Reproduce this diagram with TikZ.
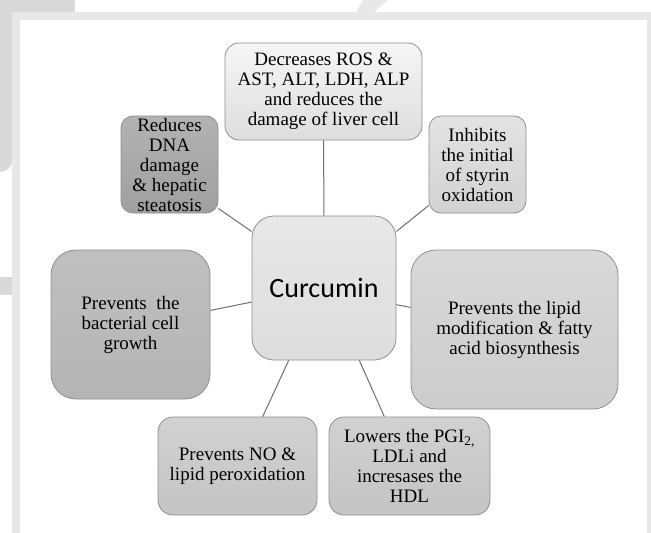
\documentclass[tikz,border=0pt]{standalone}
\usepackage{fontspec}
\setmainfont{Liberation Serif}
\newfontfamily\calfont{Carlito}
\usetikzlibrary{math}
\definecolor{wmgray}{HTML}{D9D9D9}
\definecolor{framegray}{HTML}{E8E8E8}
\definecolor{edgegray}{HTML}{8F8F8F}
\definecolor{linegray}{HTML}{6E6E6E}
\tikzset{box/.style={draw=edgegray, line width=0.8pt, rounded corners=#1, inner sep=0pt, align=center, font=\fontsize{19}{20}\selectfont},box/.default={14pt}}

\begin{document}
\begin{tikzpicture}[x=1pt,y=-1pt]
	\tikzmath{\W=651; \H=533;
	\cx=324; \cy=288; \cs=144;
	\ux=323.5; \uy=91.5;
	\lx=169.5; \rx=477.5; \sy=164.5;
	\bx=130.5; \by=324.5; \px=514.5; \py=329.5;
	\nx=237.5; \mx=409.5; \ny=466;
	}
	\useasboundingbox (0,0) rectangle (\W,\H);
	% page and watermark
	\fill[white] (0,0) rectangle (\W,\H);
	\fill[wmgray] (0,0) rectangle (75,12);
	\fill[wmgray] (0,0) -- (12,0) -- (12,160) .. controls (12,168) and (6,172) .. (0,172) -- cycle;
	\fill[wmgray] (0,277) rectangle (12,295);
	\fill[framegray] (363,0) -- (388,0) -- (374,12) -- (356,12) -- cycle;
	\fill[framegray] (12,12) rectangle (\W,\H);
	\fill[white] (20,20) rectangle (647,\H);
	% boxes
	\node[box, top color=white!60!framegray, bottom color=framegray!90!gray, minimum width=197pt, minimum height=97pt] (ros) at (\ux,\uy) {Decreases ROS \&\\AST, ALT, LDH, ALP\\and reduces the\\damage of liver cell};
	\node[box=12pt, top color=gray!60, bottom color=gray!75, minimum width=97pt, minimum height=97pt] (dna) at (\lx,\sy) {Reduces\\DNA\\damage\\\& hepatic\\steatosis};
	\node[box=12pt, top color=gray!22, bottom color=gray!35, minimum width=97pt, minimum height=97pt] (inh) at (\rx,\sy) {Inhibits\\the initial\\of styrin\\oxidation};
	\node[box=22pt, top color=gray!18, bottom color=gray!27, minimum width=\cs pt, minimum height=\cs pt, font=\calfont\fontsize{28}{30}\selectfont] (cur) at (\cx,\cy) {Curcumin};
	\node[box=25pt, top color=gray!50, bottom color=gray!58, minimum width=159pt, minimum height=149pt] (bact) at (\bx,\by) {Prevents~ the\\bacterial cell\\growth};
	\node[box=25pt, top color=gray!30, bottom color=gray!40, minimum width=207pt, minimum height=159pt] (lip) at (\px,\py) {Prevents the lipid\\modification \& fatty\\acid biosynthesis};
	\node[box=15pt, top color=gray!36, bottom color=gray!46, minimum width=159pt, minimum height=98pt] (no) at (\nx,\ny) {Prevents NO \&\\lipid peroxidation};
	\node[box=15pt, top color=gray!36, bottom color=gray!46, minimum width=161pt, minimum height=98pt] (low) at (\mx,\ny) {Lowers the PGI\textsubscript{2,}\\LDLi and\\incresases the\\HDL};
	% connectors
	\draw[linegray, line width=1pt] (ros.south) -- (cur.north);
	\draw[linegray, line width=1pt] (dna.-42) -- (cur.142);
	\draw[linegray, line width=1pt] (inh.220) -- (cur.38);
	\draw[linegray, line width=1pt] (bact.10) -- (cur.191);
	\draw[linegray, line width=1pt] (lip.168) -- (cur.-13);
	\draw[linegray, line width=1pt] (cur.244) -- (no.63);
	\draw[linegray, line width=1pt] (cur.-64) -- (low.117);
\end{tikzpicture}
\end{document}
